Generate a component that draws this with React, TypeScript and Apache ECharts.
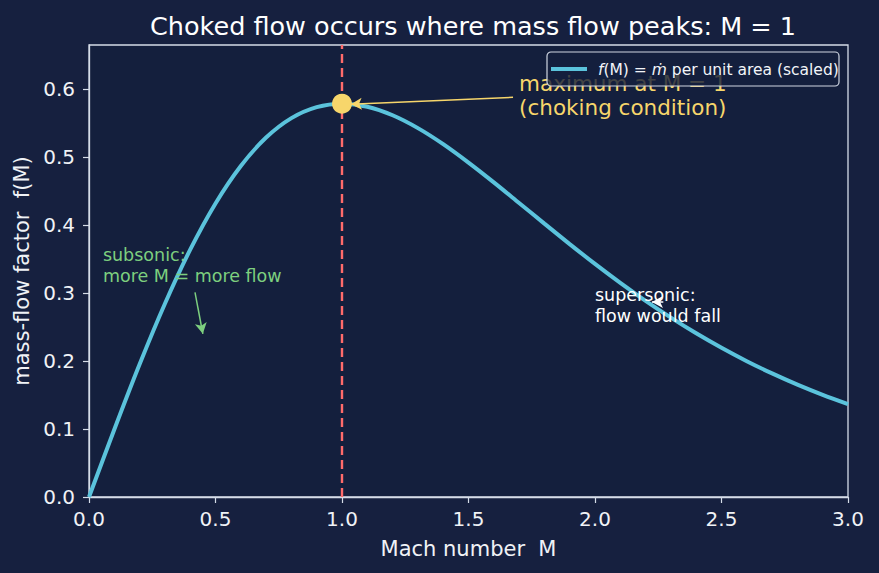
import React, { useEffect, useRef } from "react";
import * as echarts from "echarts";

const machNumbers = [0, 0.1, 0.2, 0.3, 0.4, 0.5, 0.6, 0.7, 0.8, 0.9, 1.0, 1.1, 1.2, 1.3, 1.4, 1.5, 1.6, 1.7, 1.8, 1.9, 2.0, 2.1, 2.2, 2.3, 2.4, 2.5, 2.6, 2.7, 2.8, 2.9, 3.0];
const massFlow = [0, 0.0994, 0.1953, 0.2844, 0.3639, 0.4319, 0.487, 0.5288, 0.5574, 0.5736, 0.5787, 0.5742, 0.5616, 0.5427, 0.5191, 0.492, 0.4629, 0.4326, 0.4022, 0.3721, 0.3429, 0.315, 0.2886, 0.2639, 0.2408, 0.2195, 0.1998, 0.1818, 0.1653, 0.1503, 0.1367];
const xTicks = [0, 0.5, 1.0, 1.5, 2.0, 2.5, 3.0];
const yTicks = [0, 0.1, 0.2, 0.3, 0.4, 0.5, 0.6];
const peak = [1.0, 0.5787];

const FONT = "DejaVu Sans";
const BG = "#16203f";
const PLOT_BG = "#141f3d";
const FG = "#d5dce8";
const CURVE = "#5bc3dc";
const YELLOW = "#f7d66b";
const GREEN = "#7dcf7f";
const RED = "#ff6b6b";

export default function App() {
  const ref = useRef<HTMLDivElement>(null);
  useEffect(() => {
    const chart = echarts.init(ref.current!, null, { renderer: "svg" });
    const arrowLine = (from: number[], to: number[], color: string) => [
      { coord: from, symbol: "none", symbolSize: 0, itemStyle: { color }, lineStyle: { color, width: 1.5, type: "solid" } },
      { coord: to, symbol: "arrow", symbolSize: [9, 11], itemStyle: { color }, lineStyle: { color, width: 1.5, type: "solid" } },
    ];
    chart.setOption({
      animation: false,
      backgroundColor: BG,
      textStyle: { fontFamily: FONT },
      title: {
        text: "Choked flow occurs where mass flow peaks: M = 1",
        left: 468,
        textAlign: "center",
        top: 8,
        textStyle: { color: "#ffffff", fontSize: 25.5, fontWeight: "normal", fontFamily: FONT },
      },
      grid: {
        left: 89, right: 31, top: 45, bottom: 76,
        show: true, backgroundColor: PLOT_BG, borderColor: FG, borderWidth: 1.3,
      },
      xAxis: {
        type: "value", min: 0, max: 3, interval: 0.5,
        name: "Mach number  M", nameLocation: "middle", nameGap: 41,
        nameTextStyle: { color: "#f0f2f6", fontSize: 21, fontFamily: FONT },
        axisLine: { show: true, lineStyle: { color: FG, width: 1.3 } },
        axisTick: { show: true, length: 6, lineStyle: { color: FG, width: 1.2 } },
        axisLabel: { color: "#f0f2f6", fontSize: 20, margin: 12, formatter: (v: number) => v.toFixed(1), fontFamily: FONT },
        splitLine: { show: false },
      },
      yAxis: {
        type: "value", min: 0, max: 0.665,
        name: "mass-flow factor  f(M)", nameLocation: "middle", nameGap: 51,
        nameTextStyle: { color: "#f0f2f6", fontSize: 21, fontFamily: FONT },
        axisLine: { show: true, lineStyle: { color: FG, width: 1.3 } },
        axisTick: { show: true, length: 6, lineStyle: { color: FG, width: 1.2 }, customValues: yTicks },
        axisLabel: { color: "#f0f2f6", fontSize: 20, margin: 14, customValues: yTicks, formatter: (v: number) => v.toFixed(1), fontFamily: FONT },
        splitLine: { show: false },
      },
      series: [
        {
          type: "line",
          data: machNumbers.map((m, i) => [m, massFlow[i]]),
          smooth: 0.3,
          showSymbol: false,
          lineStyle: { color: CURVE, width: 4 },
          z: 3,
          markLine: {
            silent: true,
            symbol: "none",
            label: { show: false },
            lineStyle: { color: RED, type: [9, 5], width: 2.4 },
            data: [{ xAxis: peak[0] }],
            z: 2,
          },
        },
        {
          type: "line",
          data: [],
          markLine: {
            silent: true,
            label: { show: false },
            symbol: ["none", "arrow"],
            symbolSize: [0, 10],
            lineStyle: { type: "solid", width: 1.5 },
            data: [
              arrowLine([1.676, 0.588], [1.035, 0.578], YELLOW),
              arrowLine([0.419, 0.301], [0.45, 0.24], GREEN),
              arrowLine([2.27, 0.287], [2.225, 0.287], "#ffffff"),
            ],
          },
          z: 4,
        },
        {
          type: "scatter",
          data: [peak],
          symbolSize: 20,
          itemStyle: { color: YELLOW, opacity: 1 },
          z: 5,
        },
      ],
    });

    const px = (p: number[]) => chart.convertToPixel({ gridIndex: 0 }, p) as number[];
    const maxPos = px([1.7, 0.591]);
    const subPos = px([0.055, 0.34]);
    const supPos = px([2.0, 0.2816]);

    chart.setOption({
      graphic: [
        {
          type: "text", x: maxPos[0], y: maxPos[1], z: 10,
          style: { text: "maximum at M = 1\n(choking condition)", fill: YELLOW, font: `21.5px '${FONT}'`, lineHeight: 24, verticalAlign: "middle", align: "left" },
        },
        {
          type: "text", x: subPos[0], y: subPos[1], z: 10,
          style: { text: "subsonic:\nmore M = more flow", fill: GREEN, font: `17.5px '${FONT}'`, lineHeight: 21, verticalAlign: "middle", align: "left" },
        },
        {
          type: "text", x: supPos[0], y: supPos[1], z: 10,
          style: { text: "supersonic:\nflow would fall", fill: "#ffffff", font: `17.5px '${FONT}'`, lineHeight: 21, verticalAlign: "middle", align: "left" },
        },
        {
          type: "group", x: 547, y: 52, z: 20,
          children: [
            { type: "rect", shape: { x: 0, y: 0, width: 292, height: 34, r: 4 }, style: { fill: "rgba(20,31,61,0.8)", stroke: "#cfd6e2", lineWidth: 1.2 }, z: 20 },
            { type: "line", shape: { x1: 4, y1: 17, x2: 40, y2: 17 }, style: { stroke: CURVE, lineWidth: 4 }, z: 21 },
            {
              type: "text", x: 51, y: 18, z: 21,
              style: {
                text: "{i|f}(M) = {i|m\u0307} per unit area (scaled)",
                fill: "#f2f4f8", font: `15.5px '${FONT}'`, verticalAlign: "middle", align: "left",
                rich: { i: { fontStyle: "italic", fill: "#f2f4f8", fontSize: 15.5, fontFamily: FONT } },
              },
            },
          ],
        },
      ],
    });
    return () => chart.dispose();
  }, []);
  return <div ref={ref} style={{ position: "absolute", left: 0, top: 0, width: 879, height: 573 }} />;
}
